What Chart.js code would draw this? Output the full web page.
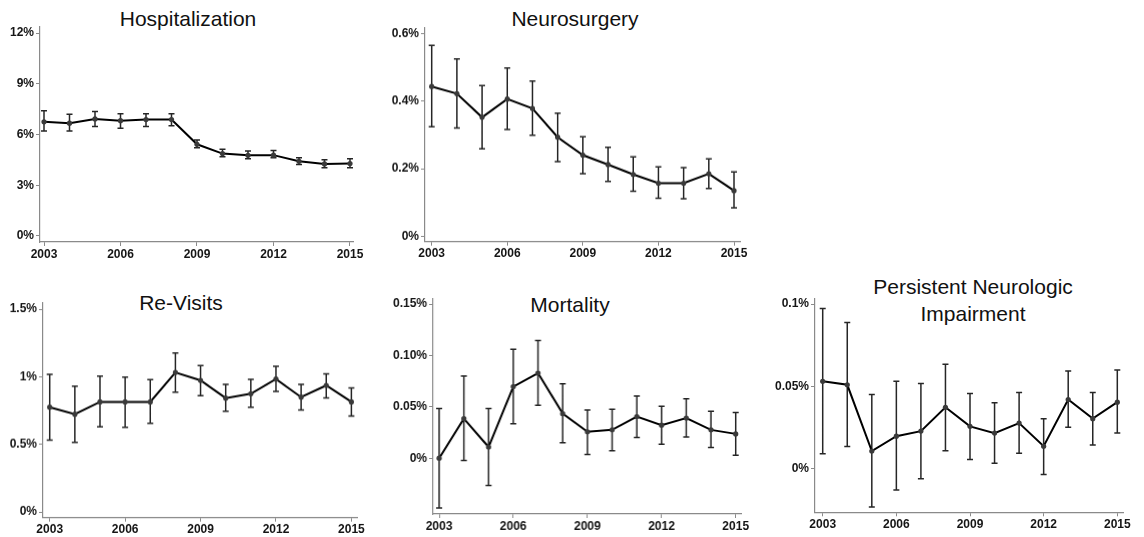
<!DOCTYPE html>
<html><head><meta charset="utf-8">
<script src="https://cdn.jsdelivr.net/npm/chart.js@4"></script>
<style>
html,body{margin:0;padding:0;background:#fff;}
body{width:1144px;height:537px;position:relative;overflow:hidden;font-family:"Liberation Sans",Arial,sans-serif;}
.box{position:absolute;}
.title{position:absolute;font-size:21px;line-height:24px;color:#111;text-align:center;white-space:nowrap;transform:translateX(-50%);}
</style></head><body>

<div class="title" style="left:188px;top:6.7px;">Hospitalization</div>
<div class="title" style="left:575px;top:7.4px;">Neurosurgery</div>
<div class="title" style="left:181px;top:290.7px;">Re-Visits</div>
<div class="title" style="left:570px;top:293px;">Mortality</div>
<div class="title" style="left:973px;top:272.5px;line-height:27px;">Persistent Neurologic<br>Impairment</div>

<div class="box" id="b1"><canvas id="c1"></canvas></div>
<div class="box" id="b2"><canvas id="c2"></canvas></div>
<div class="box" id="b3"><canvas id="c3"></canvas></div>
<div class="box" id="b4"><canvas id="c4"></canvas></div>
<div class="box" id="b5"><canvas id="c5"></canvas></div>

<script>
// ---- data ----
const years = [2003,2004,2005,2006,2007,2008,2009,2010,2011,2012,2013,2014,2015];
const xTicks = [2003,2006,2009,2012,2015];

const hospRate = [6.75,6.67,6.92,6.82,6.88,6.88,5.42,4.87,4.77,4.78,4.42,4.26,4.28];
const hospLow  = [6.21,6.21,6.47,6.37,6.47,6.51,5.22,4.69,4.56,4.62,4.22,4.04,4.04];
const hospHigh = [7.40,7.20,7.36,7.22,7.22,7.22,5.68,5.13,5.03,5.05,4.63,4.50,4.56];
const hospTicks = [0,3,6,9,12];
const hospTickLabels = ['0%','3%','6%','9%','12%'];

const neuroRate = [0.443,0.422,0.352,0.406,0.378,0.293,0.240,0.212,0.183,0.157,0.157,0.185,0.135];
const neuroLow  = [0.324,0.320,0.259,0.316,0.299,0.221,0.185,0.162,0.133,0.112,0.111,0.141,0.084];
const neuroHigh = [0.565,0.525,0.446,0.498,0.459,0.364,0.294,0.263,0.235,0.205,0.203,0.229,0.190];
const neuroTicks = [0,0.2,0.4,0.6];
const neuroTickLabels = ['0%','0.2%','0.4%','0.6%'];

const revisitRate = [0.775,0.723,0.814,0.814,0.814,1.032,0.973,0.842,0.874,0.983,0.849,0.936,0.814];
const revisitLow  = [0.532,0.515,0.629,0.626,0.656,0.886,0.859,0.745,0.775,0.891,0.755,0.844,0.710];
const revisitHigh = [1.017,0.931,1.005,0.998,0.978,1.176,1.082,0.943,0.980,1.077,0.943,1.022,0.918];
const revisitTicks = [0,0.5,1,1.5];
const revisitTickLabels = ['0%','0.5%','1%','1.5%'];

const mortRate = [0.0000,0.0385,0.0109,0.0697,0.0829,0.0434,0.0257,0.0276,0.0405,0.0322,0.0391,0.0276,0.0237];
const mortLow  = [-0.0484,-0.0023,-0.0266,0.0336,0.0516,0.0151,0.0036,0.0072,0.0201,0.0135,0.0207,0.0105,0.0030];
const mortHigh = [0.0484,0.0800,0.0484,0.1060,0.1145,0.0724,0.0470,0.0477,0.0605,0.0507,0.0579,0.0457,0.0444];
const mortTicks = [0,0.05,0.10,0.15];
const mortTickLabels = ['0%','0.05%','0.10%','0.15%'];

const pniRate = [0.0530,0.0509,0.0106,0.0196,0.0227,0.0372,0.0256,0.0215,0.0276,0.0135,0.0419,0.0303,0.0403];
const pniLow  = [0.0090,0.0133,-0.0235,-0.0131,-0.0063,0.0108,0.0055,0.0031,0.0092,-0.0037,0.0250,0.0143,0.0215];
const pniHigh = [0.0973,0.0888,0.0450,0.0530,0.0517,0.0634,0.0456,0.0399,0.0462,0.0303,0.0593,0.0462,0.0599];
const pniTicks = [0,0.05,0.1];
const pniTickLabels = ['0%','0.05%','0.1%'];

// ---- drawing ----
const YW = 40, XH = 22, PT = 10, PR = 16;
const tickFont = {family:'"Liberation Sans Narrow", "Liberation Sans", Arial, sans-serif', size:12, weight:'bold'};

const errorBarPlugin = {
  id: 'errorBars',
  beforeDatasetsDraw(chart) {
    const o = chart.options.plugins.errorBars;
    const xs = chart.scales.x, ys = chart.scales.y;
    const ctx = chart.ctx;
    ctx.save();
    ctx.strokeStyle = '#262626';
    ctx.lineWidth = 1.5;
    ctx.beginPath();
    for (let i = 0; i < o.years.length; i++) {
      const x = xs.getPixelForValue(o.years[i]);
      const y1 = ys.getPixelForValue(o.low[i]);
      const y2 = ys.getPixelForValue(o.high[i]);
      ctx.moveTo(x, y1); ctx.lineTo(x, y2);
      ctx.moveTo(x - 3, y1); ctx.lineTo(x + 3, y1);
      ctx.moveTo(x - 3, y2); ctx.lineTo(x + 3, y2);
    }
    ctx.stroke();
    ctx.restore();
  }
};

function makePanel(n, L, R, T, B, rate, low, high, yTicks, yLabels, yMin, yMax, xMin, xMax) {
  const box = document.getElementById('b' + n);
  box.style.left = (L - YW) + 'px';
  box.style.top = (T - PT) + 'px';
  box.style.width = ((R - L) + YW + PR) + 'px';
  box.style.height = ((B - T) + PT + XH) + 'px';
  new Chart(document.getElementById('c' + n), {
    type: 'line',
    data: {
      datasets: [{
        data: years.map((y, i) => ({x: y, y: rate[i]})),
        borderColor: '#000',
        borderWidth: 2,
        pointRadius: 2.6,
        pointBackgroundColor: '#3a3a3a',
        pointBorderColor: '#3a3a3a',
        pointBorderWidth: 0,
        tension: 0,
        clip: false
      }]
    },
    options: {
      responsive: true,
      maintainAspectRatio: false,
      animation: false,
      devicePixelRatio: 1,
      layout: {padding: {left: 0, top: PT, right: PR, bottom: 0}},
      plugins: {
        legend: {display: false},
        tooltip: {enabled: false},
        title: {display: false},
        errorBars: {years: years, low: low, high: high}
      },
      scales: {
        x: {
          type: 'linear',
          min: xMin, max: xMax,
          afterBuildTicks: a => { a.ticks = xTicks.map(v => ({value: v})); },
          afterFit: a => { a.height = XH; a.paddingLeft = 0; a.paddingRight = 0; },
          ticks: {autoSkip: false, maxRotation: 0, padding: 1, color: '#151515', font: tickFont,
                  callback: v => String(v)},
          grid: {drawOnChartArea: false, drawTicks: true, tickLength: 4, color: '#8a8a8a'},
          border: {display: true, color: '#8a8a8a', width: 1.2}
        },
        y: {
          type: 'linear',
          min: yMin, max: yMax,
          afterBuildTicks: a => { a.ticks = yTicks.map(v => ({value: v})); },
          afterFit: a => { a.width = YW; a.paddingTop = 0; a.paddingBottom = 0; },
          ticks: {autoSkip: false, padding: 2, color: '#151515', font: tickFont,
                  callback: (v, i) => yLabels[i]},
          grid: {drawOnChartArea: false, drawTicks: true, tickLength: 4, color: '#8a8a8a'},
          border: {display: true, color: '#8a8a8a', width: 1.2}
        }
      }
    },
    plugins: [errorBarPlugin]
  });
}

makePanel(1, 40, 353, 27, 242, hospRate, hospLow, hospHigh, hospTicks, hospTickLabels,
          -0.355, 12.355, 2002.843, 2015.118);
makePanel(2, 425, 740, 28, 240.7, neuroRate, neuroLow, neuroHigh, neuroTicks, neuroTickLabels,
          -0.016, 0.616, 2002.734, 2015.238);
makePanel(3, 43.3, 357.3, 303, 516.7, revisitRate, revisitLow, revisitHigh, revisitTicks, revisitTickLabels,
          -0.042, 1.545, 2002.733, 2015.223);
makePanel(4, 433.3, 740.7, 299, 514, mortRate, mortLow, mortHigh, mortTicks, mortTickLabels,
          -0.0543, 0.155, 2002.756, 2015.231);
makePanel(5, 815, 1123, 299, 512.3, pniRate, pniLow, pniHigh, pniTicks, pniTickLabels,
          -0.0267, 0.1031, 2002.686, 2015.232);
</script>
</body></html>
